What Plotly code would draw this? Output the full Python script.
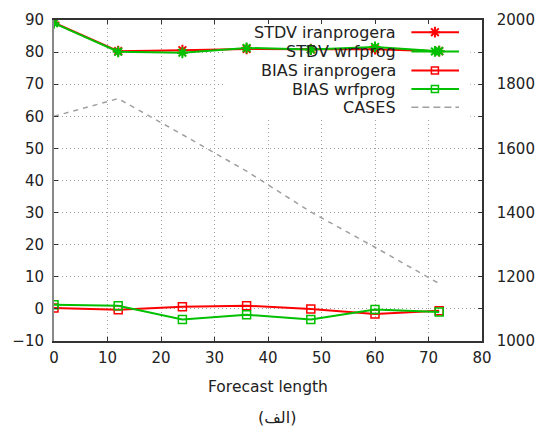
import plotly.graph_objects as go

hours = [0, 12, 24, 36, 48, 60, 72]
stdv_iran = [89.2, 80.3, 80.6, 81.0, 80.9, 80.9, 80.3]
stdv_wrf = [89.0, 80.1, 79.8, 81.3, 80.8, 81.6, 80.3]
bias_iran = [0.3, -0.3, 0.7, 1.0, 0.0, -1.6, -0.6]
bias_wrf = [1.3, 1.0, -3.3, -1.8, -3.3, -0.2, -1.0]
cases = [1700, 1755, 1643, 1529, 1402, 1292, 1179]
legend_names = ["STDV iranprogera", "STDV wrfprog", "BIAS iranprogera", "BIAS wrfprog", "CASES"]

RED = "#ff0000"
GREEN = "#00c000"
GRAY = "#a0a0a0"
FONT = "DejaVu Sans"
TXT = "#222222"

fig = go.Figure()

fig.add_trace(go.Scatter(x=hours, y=cases, yaxis="y2", mode="lines",
                         line=dict(color=GRAY, width=1.5, dash="5px,5px"), showlegend=False))
fig.add_trace(go.Scatter(x=hours, y=stdv_iran, mode="lines+markers",
                         line=dict(color=RED, width=2),
                         marker=dict(symbol="asterisk-open", size=9, line=dict(color=RED, width=2)),
                         showlegend=False))
fig.add_trace(go.Scatter(x=hours, y=stdv_wrf, mode="lines+markers",
                         line=dict(color=GREEN, width=2),
                         marker=dict(symbol="asterisk-open", size=9, line=dict(color=GREEN, width=2)),
                         showlegend=False))
fig.add_trace(go.Scatter(x=hours, y=bias_iran, mode="lines+markers",
                         line=dict(color=RED, width=2),
                         marker=dict(symbol="square-open", size=8, color=RED, line=dict(color=RED, width=1.5)),
                         showlegend=False))
fig.add_trace(go.Scatter(x=hours, y=bias_wrf, mode="lines+markers",
                         line=dict(color=GREEN, width=2),
                         marker=dict(symbol="square-open", size=8, color=GREEN, line=dict(color=GREEN, width=1.5)),
                         showlegend=False))

# custom gnuplot-like key (text right, sample on the right)
key_rows = [86.2, 80.2, 74.3, 68.5, 62.8]
key_styles = [
    dict(color=RED, sym="asterisk-open", size=9, dash="solid"),
    dict(color=GREEN, sym="asterisk-open", size=9, dash="solid"),
    dict(color=RED, sym="square-open", size=7, dash="solid"),
    dict(color=GREEN, sym="square-open", size=7, dash="solid"),
    dict(color=GRAY, sym=None, size=0, dash="7px,4px"),
]
for name, yk, st in zip(legend_names, key_rows, key_styles):
    fig.add_trace(go.Scatter(x=[66.8, 75.7], y=[yk, yk], mode="lines",
                             line=dict(color=st["color"], width=2 if st["sym"] else 1.5, dash=st["dash"]),
                             showlegend=False, hoverinfo="skip"))
    if st["sym"]:
        fig.add_trace(go.Scatter(x=[71.2], y=[yk], mode="markers",
                                 marker=dict(symbol=st["sym"], size=st["size"], color=st["color"],
                                             line=dict(color=st["color"], width=2 if "asterisk" in st["sym"] else 1.5)),
                                 showlegend=False, hoverinfo="skip"))
    fig.add_annotation(x=64.3, y=yk, xref="x", yref="y", text=name, showarrow=False,
                       xanchor="right", yanchor="middle",
                       font=dict(family=FONT, size=16, color=TXT))

fig.add_shape(type="rect", xref="x", yref="y", x0=32.0, x1=77.8, y0=59.6, y1=90,
              fillcolor="white", line=dict(width=0), layer="between")

fig.add_annotation(x=0.5, y=-0.142, xref="paper", yref="paper", text="Forecast length",
                   showarrow=False, xanchor="center", yanchor="middle",
                   font=dict(family=FONT, size=15.5, color=TXT))
fig.add_annotation(x=0.52, y=-0.2395, xref="paper", yref="paper", text="(الف)",
                   showarrow=False, xanchor="center", yanchor="middle",
                   font=dict(family=FONT, size=16, color=TXT))

# page body has an 8px margin; figure is sized/offset to land the plot area where the reference has it
fig.update_layout(
    width=536, height=422,
    margin=dict(l=46, r=62, t=12, b=89, autoexpand=False),
    paper_bgcolor="white", plot_bgcolor="white",
    font=dict(family=FONT, size=15, color=TXT),
    xaxis=dict(range=[0, 80], dtick=10, tick0=0, showgrid=True, gridcolor="#a0a0a0",
               griddash="1px,3px", gridwidth=1, zeroline=False, automargin=False,
               showline=True, linecolor="#333333", linewidth=1.5, mirror="ticks",
               ticks="inside", ticklen=4, tickcolor="#333333", ticklabelstandoff=2,
               tickfont=dict(family=FONT, size=15, color=TXT)),
    yaxis=dict(range=[-10, 90], dtick=10, tick0=0, showgrid=True, gridcolor="#a0a0a0",
               griddash="1px,3px", gridwidth=1, zeroline=False, automargin=False,
               showline=True, linecolor="#888888", linewidth=2, mirror="ticks",
               ticks="inside", ticklen=4, tickcolor="#333333", ticklabelstandoff=5,
               tickfont=dict(family=FONT, size=15, color=TXT)),
    yaxis2=dict(range=[1000, 2000], dtick=200, tick0=1000, overlaying="y", side="right",
                showgrid=False, zeroline=False, showline=True, linecolor="#333333", linewidth=1.5,
                ticks="", automargin=False, ticklabelstandoff=10,
                tickfont=dict(family=FONT, size=15, color=TXT)),
    showlegend=False,
)

fig.write_html("out.html")
